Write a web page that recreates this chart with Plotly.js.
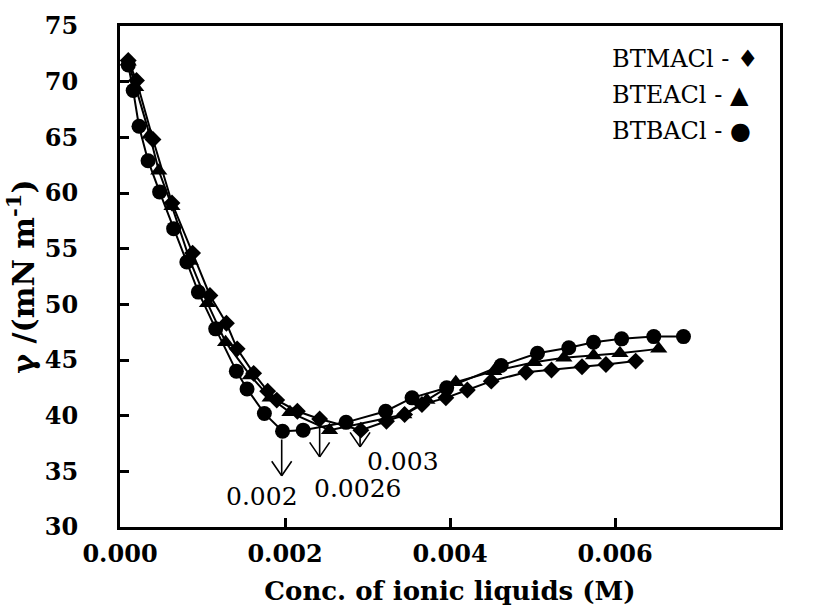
<!DOCTYPE html>
<html>
<head>
<meta charset="utf-8">
<script src="https://cdn.plot.ly/plotly-3.0.1.min.js"></script>
<style>html,body{margin:0;padding:0;background:#fff;}#chart{width:817px;height:612px;}</style>
</head>
<body>
<div id="chart"></div>
<script>
// BTMACl (diamonds)
const btmaclX = [0.0001, 0.0002, 0.0004, 0.00063, 0.00088, 0.00109, 0.00129, 0.00142, 0.00162, 0.00179, 0.00190, 0.00215, 0.00242, 0.00292, 0.00323, 0.00345, 0.00366, 0.00395, 0.00421, 0.00450, 0.00492, 0.00523, 0.00560, 0.00589, 0.00625];
const btmaclY = [71.9, 70.1, 64.8, 59.1, 54.6, 50.8, 48.3, 46.0, 43.8, 42.2, 41.4, 40.4, 39.7, 38.7, 39.5, 40.1, 41.0, 41.6, 42.3, 43.1, 43.9, 44.1, 44.4, 44.6, 44.9];
// BTEACl (triangles)
const bteaclX = [0.0001, 0.00019, 0.00036, 0.00047, 0.00063, 0.00085, 0.00106, 0.00128, 0.00158, 0.00182, 0.00206, 0.00254, 0.00344, 0.00372, 0.00407, 0.00453, 0.00502, 0.00538, 0.00574, 0.00606, 0.00653];
const bteaclY = [71.8, 69.5, 65.2, 62.0, 58.8, 53.9, 50.1, 46.6, 43.6, 41.6, 40.3, 38.7, 40.1, 41.4, 43.0, 44.0, 44.8, 45.2, 45.4, 45.6, 46.0];
// BTBACl (circles)
const btbaclX = [0.0001, 0.00016, 0.00023, 0.00034, 0.00048, 0.00065, 0.00081, 0.00095, 0.00116, 0.00141, 0.00154, 0.00175, 0.00197, 0.00222, 0.00274, 0.00322, 0.00354, 0.00396, 0.00462, 0.00506, 0.00544, 0.00574, 0.00608, 0.00647, 0.00683];
const btbaclY = [71.5, 69.2, 66.0, 62.9, 60.1, 56.8, 53.8, 51.1, 47.8, 44.0, 42.4, 40.2, 38.6, 38.7, 39.4, 40.4, 41.6, 42.5, 44.5, 45.6, 46.1, 46.6, 46.9, 47.1, 47.1];

// CMC arrows
const cmcLabels = ["0.002", "0.0026", "0.003"];
const arrowX = [0.00196, 0.00242, 0.00291];
const arrowTailY = [38.0, 39.3, 39.0];
const arrowTipY = [34.6, 36.3, 37.2];
const labelX = [0.00172, 0.00288, 0.00343];
const labelY = [32.7, 33.5, 35.9];

// legend text
const legendLines = ["BTMACl - \u2666", "BTEACl - \u25B2", "BTBACl - \u25CF"];

const lineStyle = {color: '#000', width: 2};
const traces = [
  {x: btmaclX, y: btmaclY, mode: 'lines+markers', line: lineStyle,
   marker: {symbol: 'diamond', size: 13, color: '#000'}, name: 'BTMACl'},
  {x: bteaclX, y: bteaclY, mode: 'lines+markers', line: lineStyle,
   marker: {symbol: 'triangle-up', size: 15, color: '#000'}, name: 'BTEACl'},
  {x: btbaclX, y: btbaclY, mode: 'lines+markers', line: lineStyle,
   marker: {symbol: 'circle', size: 15, color: '#000'}, name: 'BTBACl'}
];

const annotations = [];
const headW = 11, headH = 16;
for (let i = 0; i < arrowX.length; i++) {
  // shaft
  annotations.push({x: arrowX[i], y: arrowTipY[i], ax: arrowX[i], ay: arrowTailY[i],
    xref: 'x', yref: 'y', axref: 'x', ayref: 'y', text: '', showarrow: true,
    arrowhead: 0, arrowwidth: 1.6, arrowcolor: '#000', standoff: 0, startstandoff: 0});
  // open V head arms
  [-1, 1].forEach(s => {
    annotations.push({x: arrowX[i], y: arrowTipY[i], ax: s * headW, ay: -headH,
      xref: 'x', yref: 'y', text: '', showarrow: true,
      arrowhead: 0, arrowwidth: 1.6, arrowcolor: '#000', standoff: 0, startstandoff: 0});
  });
  annotations.push({x: labelX[i], y: labelY[i], xref: 'x', yref: 'y', text: cmcLabels[i],
    showarrow: false, font: {family: 'DejaVu Serif', size: 25, color: '#000'}});
}
const L = 120, R = 37, T = 26, B = 85, W = 817, H = 612;
const pw = W - L - R, ph = H - T - B;
for (let i = 0; i < legendLines.length; i++) {
  annotations.push({x: (610 - L) / pw, y: 1 - (59 + 36 * i - T) / ph, xref: 'paper', yref: 'paper',
    text: legendLines[i], showarrow: false, xanchor: 'left', yanchor: 'middle',
    font: {family: 'DejaVu Serif', size: 24, color: '#000'}});
}

const axisFont = {family: 'DejaVu Serif', size: 24, color: '#000', weight: 'bold'};
const layout = {
  width: W, height: H,
  margin: {l: L, r: R, t: T, b: B, pad: 0},
  paper_bgcolor: '#fff', plot_bgcolor: '#fff',
  showlegend: false,
  xaxis: {range: [0, 0.008], dtick: 0.002, tick0: 0, tickformat: '.3f',
    showgrid: false, zeroline: false, showline: true, mirror: true,
    linecolor: '#000', linewidth: 3, ticks: 'inside', ticklen: 9, tickwidth: 3, tickcolor: '#000',
    tickfont: axisFont, ticklabelstandoff: 3,
    title: {text: 'Conc. of ionic liquids (M)', font: {family: 'DejaVu Serif', size: 26, color: '#000', weight: 'bold'}, standoff: 16}},
  yaxis: {range: [30, 75], dtick: 5, tick0: 30,
    showgrid: false, zeroline: false, showline: true, mirror: true,
    linecolor: '#000', linewidth: 3, ticks: 'inside', ticklen: 9, tickwidth: 3, tickcolor: '#000',
    tickfont: axisFont, ticklabelstandoff: 34,
    title: {text: '\u03B3 /(mN m<sup>-1</sup>)', font: {family: 'DejaVu Serif', size: 30, color: '#000', weight: 'bold'}, standoff: 2}},
  annotations: annotations
};

Plotly.newPlot('chart', traces, layout, {staticPlot: true, displayModeBar: false});
</script>
</body>
</html>
